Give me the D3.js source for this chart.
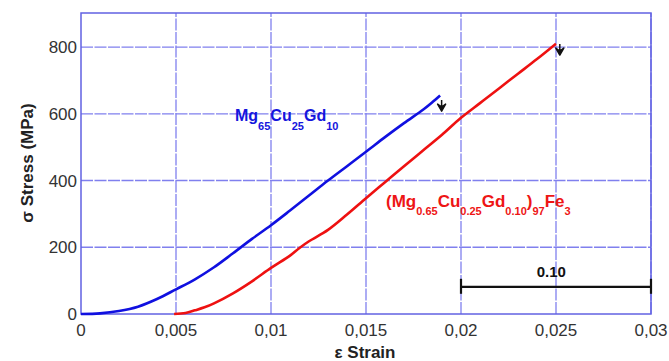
<!DOCTYPE html>
<html>
<head>
<meta charset="utf-8">
<script src="https://cdn.jsdelivr.net/npm/d3@7"></script>
<style>
  body { margin: 0; background: #fff; }
  svg { display: block; font-family: Arial, "Liberation Sans", sans-serif; }
</style>
</head>
<body>
<svg id="chart" width="669" height="361"></svg>
<script>
// strain values and stress (MPa)
const blueStrain = [0, 0.001, 0.002, 0.003, 0.004, 0.005, 0.006, 0.007, 0.008, 0.009, 0.01, 0.011, 0.012, 0.013, 0.014, 0.015, 0.016, 0.017, 0.018, 0.0185, 0.0189];
const blueStress = [0, 2, 9, 22, 45, 74, 104, 140, 182, 225, 266, 310, 355, 400, 443, 486, 530, 572, 612, 635, 655];
const redStrain = [0.0049, 0.0055, 0.006, 0.0065, 0.007, 0.008, 0.009, 0.01, 0.011, 0.0115, 0.012, 0.013, 0.014, 0.015, 0.016, 0.017, 0.018, 0.019, 0.02, 0.021, 0.022, 0.023, 0.024, 0.025];
const redStress = [0, 3, 11, 20, 32, 62, 98, 138, 175, 198, 218, 252, 298, 347, 395, 443, 490, 537, 588, 632, 676, 720, 764, 810];

const xTicks = [0, 0.005, 0.01, 0.015, 0.02, 0.025, 0.03];
const xTickLabels = ["0", "0,005", "0,01", "0,015", "0,02", "0,025", "0,03"];
const yTicks = [0, 200, 400, 600, 800];

// end-of-test arrows [strain, stress at tip]
const arrowPoints = [[0.01898, 608], [0.0252, 776]];
// scale bar: from, to, stress level, label
const scaleBar = [0.02, 0.03, 81.5];
const scaleLabel = "0.10";

const svg = d3.select("#chart");
const margin = {top: 13, right: 18, bottom: 47, left: 81};
const W = 669, H = 361;

const x = d3.scaleLinear().domain([0, 0.03]).range([margin.left, W - margin.right]);
const y = d3.scaleLinear().domain([0, 902]).range([H - margin.bottom, margin.top]);

const gridColor = "#8080ee";

// grid
const grid = svg.append("g");
grid.selectAll(".vx").data(xTicks.slice(1)).enter().append("line")
  .attr("x1", d => x(d)).attr("x2", d => x(d))
  .attr("y1", y(0)).attr("y2", y(902))
  .attr("stroke", gridColor).attr("stroke-width", 1.3).attr("stroke-dasharray", "12,1.5");
grid.selectAll(".hy").data(yTicks.slice(1)).enter().append("line")
  .attr("x1", x(0)).attr("x2", x(0.03))
  .attr("y1", d => y(d)).attr("y2", d => y(d))
  .attr("stroke", gridColor).attr("stroke-width", 1.3).attr("stroke-dasharray", "12,1.5");

// frame
svg.append("rect")
  .attr("x", x(0)).attr("y", y(902))
  .attr("width", x(0.03) - x(0)).attr("height", y(0) - y(902))
  .attr("fill", "none").attr("stroke", "#6262e2").attr("stroke-width", 1.5);

// tick labels
svg.append("g").selectAll("text").data(xTicks).enter().append("text")
  .attr("x", d => x(d)).attr("y", 336)
  .attr("text-anchor", "middle")
  .attr("font-size", 17).attr("fill", "#333")
  .text((d, i) => xTickLabels[i]);
svg.append("g").selectAll("text").data(yTicks).enter().append("text")
  .attr("x", x(0) - 4).attr("y", d => y(d) + 6)
  .attr("text-anchor", "end")
  .attr("font-size", 17).attr("fill", "#333")
  .text(d => d);

// axis titles
svg.append("text")
  .attr("x", 365).attr("y", 358)
  .attr("text-anchor", "middle").attr("font-weight", "bold")
  .attr("font-size", 17).attr("fill", "#222")
  .text("ε Strain");
svg.append("text")
  .attr("transform", "translate(33,163) rotate(-90)")
  .attr("text-anchor", "middle").attr("font-weight", "bold")
  .attr("font-size", 17).attr("fill", "#222")
  .text("σ Stress (MPa)");

// curves
const line = d3.line().x(d => x(d[0])).y(d => y(d[1])).curve(d3.curveCatmullRom);
svg.append("path")
  .datum(blueStrain.map((s, i) => [s, blueStress[i]]))
  .attr("d", line).attr("fill", "none")
  .attr("stroke", "#1010e0").attr("stroke-width", 2.6);
svg.append("path")
  .datum(redStrain.map((s, i) => [s, redStress[i]]))
  .attr("d", line).attr("fill", "none")
  .attr("stroke", "#ee1111").attr("stroke-width", 2.6);

// arrows
svg.append("g").selectAll("path").data(arrowPoints).enter().append("path")
  .attr("transform", d => "translate(" + x(d[0]) + "," + y(d[1]) + ")")
  .attr("d", "M0,-11 L0,-4 M-4,-7 L0,0 L4,-7 L0,-4 Z")
  .attr("fill", "#111").attr("stroke", "#111").attr("stroke-width", 1.5)
  .attr("stroke-linejoin", "round");

// scale bar
const sb = svg.append("g").attr("stroke", "#111").attr("stroke-width", 2.2);
sb.append("line").attr("x1", x(scaleBar[0])).attr("x2", x(scaleBar[1]))
  .attr("y1", y(scaleBar[2])).attr("y2", y(scaleBar[2]));
sb.selectAll(".t").data([scaleBar[0], scaleBar[1]]).enter().append("line")
  .attr("x1", d => x(d)).attr("x2", d => x(d))
  .attr("y1", y(scaleBar[2]) - 8).attr("y2", y(scaleBar[2]) + 7);
svg.append("text")
  .attr("x", x(0.02475)).attr("y", y(scaleBar[2]) - 10)
  .attr("text-anchor", "middle").attr("font-weight", "bold")
  .attr("font-size", 15).attr("fill", "#111")
  .text(scaleLabel);

// composition labels: parts are [text, isSubscript]
function label(px, py, parts, color, size, subSize, subShift) {
  const t = svg.append("text").attr("x", px).attr("y", py)
    .attr("font-weight", "bold").attr("fill", color).attr("font-size", size);
  let shifted = 0;
  parts.forEach(p => {
    const want = p[1] ? subShift : 0;
    t.append("tspan")
      .attr("font-size", p[1] ? subSize : size)
      .attr("dy", want - shifted)
      .text(p[0]);
    shifted = want;
  });
}
label(235, 121, [["Mg", 0], ["65", 1], ["Cu", 0], ["25", 1], ["Gd", 0], ["10", 1]], "#1515dd", 16, 11, 9);
label(386, 207, [["(Mg", 0], ["0.65", 1], ["Cu", 0], ["0.25", 1], ["Gd", 0], ["0.10", 1], [")", 0], ["97", 1], ["Fe", 0], ["3", 1]], "#ee1515", 17, 11, 8);
</script>
</body>
</html>
